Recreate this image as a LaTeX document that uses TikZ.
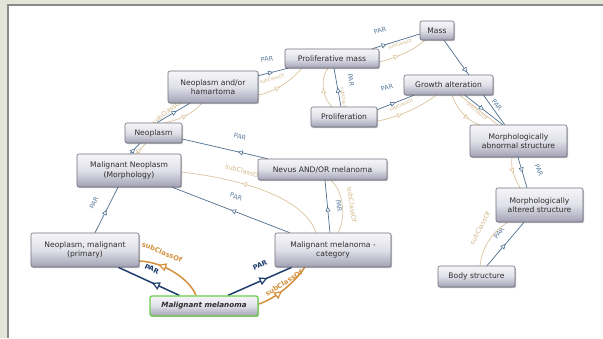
\documentclass[tikz,border=0pt]{standalone}
\usepackage{fontspec}
\setmainfont{DejaVu Sans}
\usetikzlibrary{arrows.meta,decorations.markings,shadows,calc}
\pgfdeclarelayer{bglayer}
\pgfdeclarelayer{edgelayer}
\pgfsetlayers{bglayer,edgelayer,main}
\definecolor{bandcol}{HTML}{E3E5D9}
\definecolor{framecol}{HTML}{8A8A8A}
\definecolor{parcol}{HTML}{4F6F8F}
\definecolor{parlab}{HTML}{5F7F9F}
\definecolor{subcol}{HTML}{DCC49E}
\definecolor{sublab}{HTML}{D2B889}
\definecolor{navycol}{HTML}{1F3F6F}
\definecolor{orangecol}{HTML}{D4903E}
\definecolor{bordercol}{HTML}{6E6E7A}
\definecolor{nodetop}{HTML}{F6F6F9}
\definecolor{nodemid}{HTML}{E0E0E9}
\definecolor{nodebot}{HTML}{A2A1B5}
\definecolor{textcol}{HTML}{2E2E2E}
\definecolor{greencol}{HTML}{6CCB4C}
\tikzset{
  box/.style={draw=bordercol, line width=0.6pt, rounded corners=2pt,
    top color=nodetop, bottom color=nodebot, middle color=nodemid,
    drop shadow={shadow xshift=1pt, shadow yshift=-1.2pt, fill=black, opacity=0.25},
    font=\fontsize{7.6}{9.5}\selectfont, text=textcol, align=center, inner sep=0pt},
  par/.style={draw=parcol, line width=0.7pt},
  sub/.style={draw=subcol, line width=0.7pt},
  parthick/.style={draw=navycol, line width=1.5pt},
  subthick/.style={draw=orangecol, line width=1.5pt},
  midarrow/.style={postaction={decorate, decoration={markings,
      mark=at position #1 with {\arrow{Triangle[length=5pt,width=5pt,fill=white,line width=0.6pt]}}}}},
  bigarrow/.style={postaction={decorate, decoration={markings,
      mark=at position #1 with {\arrow{Triangle[length=8pt,width=8pt,fill=white,line width=1.2pt]}}}}},
  lpar/.style={text=parlab, font=\fontsize{6.5}{7}\selectfont, inner sep=0pt},
  lsub/.style={text=sublab, font=\fontsize{6.5}{7}\selectfont, inner sep=0pt},
  lsubsmall/.style={text=sublab, font=\fontsize{4.5}{5}\selectfont, inner sep=0pt},
  lparbold/.style={text=navycol, font=\bfseries\fontsize{6.8}{7}\selectfont, inner sep=0pt},
  lsubbold/.style={text=orangecol, font=\bfseries\fontsize{6.8}{7}\selectfont, inner sep=0pt},
}
\begin{document}
\begin{tikzpicture}[x=1pt,y=-1pt]
\useasboundingbox (0,0) rectangle (603,338);
% frame
\begin{pgfonlayer}{bglayer}
\fill[bandcol] (0,0) rectangle (603,338);
\fill[framecol] (7,4) rectangle (603,338);
\fill[white] (9,6) rectangle (603,338);
\end{pgfonlayer}

% nodes
\node[box, minimum width=34pt, minimum height=19pt] (mass) at (437,30.5) {Mass};
\node[box, minimum width=94pt, minimum height=19pt] (pm) at (332,58.5) {Proliferative mass};
\node[box, minimum width=90pt, minimum height=32pt] (nah) at (213,87) {Neoplasm and/or\\hamartoma};
\node[box, minimum width=89pt, minimum height=20pt] (ga) at (448.5,85) {Growth alteration};
\node[box, minimum width=66pt, minimum height=20pt] (prol) at (344,117) {Proliferation};
\node[box, minimum width=57pt, minimum height=20pt] (neo) at (153.5,133) {Neoplasm};
\node[box, minimum width=97pt, minimum height=32pt] (mas) at (518.5,141) {Morphologically\\abnormal structure};
\node[box, minimum width=104pt, minimum height=33pt] (mnm) at (129,170.5) {Malignant Neoplasm\\(Morphology)};
\node[box, minimum width=129pt, minimum height=21pt] (nevus) at (322.5,169.5) {Nevus AND/OR melanoma};
\node[box, minimum width=87pt, minimum height=34pt] (malts) at (539.5,205) {Morphologically\\altered structure};
\node[box, minimum width=108pt, minimum height=34pt] (nmp) at (85,250) {Neoplasm, malignant\\(primary)};
\node[box, minimum width=116pt, minimum height=34pt] (mmc) at (333,250) {Malignant melanoma -\\category};
\node[box, minimum width=77pt, minimum height=21pt] (bs) at (476.5,276.5) {Body structure};
\node[box, draw=greencol, line width=1.3pt, minimum width=108pt, minimum height=20pt,
      font=\bfseries\itshape\fontsize{7.2}{9}\selectfont] (mm) at (204,306) {Malignant melanoma};

\begin{pgfonlayer}{edgelayer}
% MM -> NMP
\draw[parthick, bigarrow=0.45] ($(mm.north west)+(30,0)$) -- ($(nmp.south east)+(-21,0)$);
\draw[subthick, bigarrow=0.72] ($(mm.north)+(-8,0)$) .. controls (190,280) and (165,262) .. ($(nmp.east)+(0,11)$);
\node[lparbold, rotate=-25] (l1) at (152,269) {PAR};
\node[lsubbold, rotate=-22] (l2) at (162,252) {subClassOf};
% MM -> MMC
\draw[parthick, bigarrow=0.62] ($(mm.north)+(24,0)$) -- ($(mmc.south west)+(17,0)$);
\draw[subthick, bigarrow=0.45] ($(mm.east)+(0,-2)$) .. controls (272,300) and (292,286) .. ($(mmc.south west)+(30,0)$);
\node[lparbold, rotate=22] (l3) at (260,265) {PAR};
\node[lsubbold, rotate=32] (l4) at (284,283) {subClassOf};
% NMP -> MNM
\draw[par, midarrow=0.5] ($(nmp.north)+(10,0)$) -- ($(mnm.south)+(-11,0)$);
\node[lpar, rotate=63] (l5) at (94,203) {PAR};
% MMC -> MNM
\draw[par, midarrow=0.5] ($(mmc.north west)+(15,0)$) -- ($(mnm.south east)+(-9,0)$);
\node[lpar, rotate=-21] (l6) at (236,197) {PAR};
\draw[sub, midarrow=0.6] ($(mmc.north)+(-17,0)$) .. controls (305,200) and (250,180) .. ($(mnm.east)+(0,1.5)$);
\node[lsub, rotate=-15] (l7) at (243,171) {subClassOf};
% MMC -> Nevus
\draw[par, midarrow=0.5] ($(mmc.north)+(-3,0)$) -- ($(nevus.south)+(2.5,0)$);
\node[lpar, rotate=-84] (l8) at (339,206) {PAR};
\draw[sub] ($(mmc.north)+(5,0)$) .. controls (346,218) and (344,192) .. ($(nevus.south)+(8.5,0)$);
\node[lsub, rotate=-82] (l9) at (352,205) {subClassOf};
% Nevus -> Neoplasm
\draw[par, midarrow=0.35] ($(nevus.north west)+(10,0)$) -- ($(neo.east)+(0,6)$);
\node[lpar, rotate=-13] (l10) at (240,137) {PAR};
% MNM -> Neoplasm
\draw[par, midarrow=0.5] ($(mnm.north)+(1,0)$) -- ($(neo.south)+(-13.5,0)$);
\draw[sub, midarrow=0.5] ($(mnm.north)+(7,0)$) -- ($(neo.south)+(-7.5,0)$);
% Neoplasm -> NAH
\draw[par, midarrow=0.6] ($(neo.north)+(3.5,0)$) -- ($(nah.south west)+(22,0)$);
\draw[sub, midarrow=0.55] ($(neo.north)+(11.5,0)$) .. controls (180,120) and (195,112) .. ($(nah.south west)+(34,0)$);
\node[lsub, rotate=38] (l11) at (167,112) {subClassOf};
% NAH -> PM
\draw[par, midarrow=0.5] ($(nah.north east)+(0,5)$) -- ($(pm.south west)+(3,0)$);
\node[lpar, rotate=8] (l12) at (267,59) {PAR};
\node[lsubsmall, rotate=15] (l13) at (272,79) {subClassOf};
\draw[sub, midarrow=0.45] ($(nah.east)+(0,8)$) .. controls (275,92) and (292,80) .. ($(pm.south west)+(17,0)$);
% PM -> Mass
\draw[par, midarrow=0.3] ($(pm.north east)+(-7,0)$) -- ($(mass.west)+(0,3.5)$);
\node[lpar, rotate=15] (l14) at (380,31) {PAR};
\node[lsubsmall, rotate=18] (l15) at (400,44) {subClassOf};
\draw[sub, midarrow=0.4] ($(pm.east)+(0,3.5)$) .. controls (395,58) and (415,50) .. ($(mass.south west)+(5,0)$);
% Proliferation -> PM
\draw[par, midarrow=0.5] ($(prol.north)+(-3,0)$) -- ($(pm.south)+(2,0)$);
\node[lpar, rotate=-80] (l16) at (351,80) {PAR};
\node[lsubsmall, rotate=-82] (l17) at (344,100) {subClassOf};
\draw[sub, midarrow=0.5] ($(prol.north)+(-12,0)$) .. controls (322,98) and (320,78) .. ($(pm.south)+(-4,0)$);
% Proliferation -> GA
\draw[par, midarrow=0.5] ($(prol.north east)+(0,3)$) -- ($(ga.south west)+(10,0)$);
\node[lpar, rotate=15] (l18) at (387,88) {PAR};
\node[lsubsmall, rotate=22] (l19) at (401,105) {subClassOf};
\draw[sub, midarrow=0.4] ($(prol.east)+(0,4)$) .. controls (395,118) and (420,108) .. ($(ga.south west)+(32,0)$);
% Mass -> MAS
\draw[par, midarrow=0.38] ($(mass.south)+(7,0)$) -- ($(mas.north west)+(35,0)$);
% GA -> MAS
\draw[par, midarrow=0.5] ($(ga.south)+(16.5,0)$) -- ($(mas.north west)+(33,0)$);
\draw[sub] ($(ga.south)+(11.5,0)$) -- ($(mas.north west)+(28,0)$);
\node[lpar, rotate=-52] (l20) at (497,105) {PAR};
\node[lsubsmall, rotate=-40] (l21) at (477,111) {subClassOf};
\draw[sub, midarrow=0.7] ($(ga.south)+(3.5,0)$) .. controls (458,112) and (470,122) .. ($(mas.north west)+(10,0)$);
% MAS -> MAltS
\draw[par, midarrow=0.5] ($(mas.south)+(-0.5,0)$) -- ($(malts.north)+(-12.5,0)$);
\draw[sub, midarrow=0.5] ($(mas.south)+(-6.5,0)$) .. controls (510,170) and (516,180) .. ($(malts.north)+(-19.5,0)$);
\node[lpar, rotate=-68] (l22) at (539,170) {PAR};
% BS -> MAltS
\draw[par, midarrow=0.5] ($(bs.north)+(10.5,0)$) -- ($(malts.south)+(-15.5,0)$);
\node[lpar, rotate=52] (l23) at (499,233) {PAR};
\draw[sub] ($(bs.north)+(3.5,0)$) .. controls (482,245) and (495,230) .. ($(malts.south west)+(12,0)$);
\node[lsub, rotate=62] (l24) at (480,228) {subClassOf};
\end{pgfonlayer}
\end{tikzpicture}
\end{document}
